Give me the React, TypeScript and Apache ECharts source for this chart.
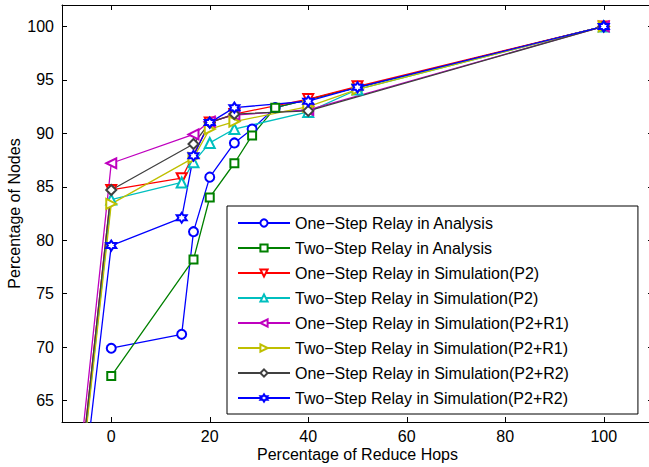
import React, { useEffect, useRef } from "react";
import * as echarts from "echarts";

// ---- data ----
const X_TICKS = [0, 20, 40, 60, 80, 100];
const Y_TICKS = [65, 70, 75, 80, 85, 90, 95, 100];

const NAMES = [
  "One\u2212Step Relay in Analysis",
  "Two\u2212Step Relay in Analysis",
  "One\u2212Step Relay in Simulation(P2)",
  "Two\u2212Step Relay in Simulation(P2)",
  "One\u2212Step Relay in Simulation(P2+R1)",
  "Two\u2212Step Relay in Simulation(P2+R1)",
  "One\u2212Step Relay in Simulation(P2+R2)",
  "Two\u2212Step Relay in Simulation(P2+R2)",
];

const oneAnaX = [0, 14.3, 16.7, 20, 25, 28.6, 33.3, 50, 100];
const oneAnaY = [69.9, 71.2, 80.8, 85.9, 89.1, 90.4, 92.4, 94.3, 100];

const twoAnaX = [0, 16.7, 20, 25, 28.6, 33.3, 50, 100];
const twoAnaY = [67.3, 78.2, 84.0, 87.2, 89.8, 92.4, 94.3, 100];

const oneP2X = [-20, 0, 14.3, 20, 25, 40, 50, 100];
const oneP2Y = [0, 84.7, 85.8, 91.0, 91.8, 93.2, 94.4, 100];

const twoP2X = [-20, 0, 14.3, 16.7, 20, 25, 40, 50, 100];
const twoP2Y = [0, 83.8, 85.4, 87.3, 89.1, 90.4, 92.0, 94.1, 100];

const oneR1X = [-20, 0, 16.7, 20, 25, 40, 100];
const oneR1Y = [0, 87.2, 89.9, 91.1, 91.7, 92.2, 100];

const twoR1X = [-20, 0, 16.7, 20, 25, 40, 50, 100];
const twoR1Y = [0, 83.4, 87.7, 90.4, 91.1, 92.5, 94.1, 100];

const oneR2X = [-20, 0, 16.7, 20, 25, 40, 100];
const oneR2Y = [0, 84.7, 89.0, 91.0, 91.8, 92.1, 100];

const twoR2X = [-20, 0, 14.3, 16.7, 20, 25, 40, 50, 100];
const twoR2Y = [0, 79.5, 82.1, 87.9, 91.0, 92.4, 93.0, 94.3, 100];

const SERIES_X = [oneAnaX, twoAnaX, oneP2X, twoP2X, oneR1X, twoR1X, oneR2X, twoR2X];
const SERIES_Y = [oneAnaY, twoAnaY, oneP2Y, twoP2Y, oneR1Y, twoR1Y, oneR2Y, twoR2Y];

// ---- styles ----
const COLORS = ["#0000ff", "#008000", "#ff0000", "#00bfbf", "#bf00bf", "#bfbf00", "#404040", "#0000ff"];
const HEX =
  "emptyPath://M10 0L12.887 5L18.66 5L15.774 10L18.66 15L12.887 15L10 20L7.113 15L1.34 15L4.226 10L1.34 5L7.113 5Z";
const SYMBOLS = ["emptyCircle", "emptyRect", "emptyTriangle", "emptyTriangle", "emptyTriangle", "emptyTriangle", "emptyDiamond", HEX];
const ROTATE = [0, 0, 180, 0, 90, -90, 0, 0];
const SIZES = [9, 8, 10, 10, 10, 10, 10, 10];

const FONT = "'Liberation Sans', Arial, Helvetica, sans-serif";

export default function App() {
  const ref = useRef<HTMLDivElement>(null);
  useEffect(() => {
    if (!ref.current) return;
    const chart = echarts.init(ref.current, null, { renderer: "svg" });
    const axisCommon = {
      axisLine: { show: true, onZero: false, lineStyle: { color: "#000", width: 1 } },
      splitLine: { show: false },
    };
    const series = NAMES.map((name, i) => ({
      name,
      type: "line",
      data: SERIES_X[i].map((x, j) => [x, SERIES_Y[i][j]]),
      symbol: SYMBOLS[i],
      symbolSize: SIZES[i],
      symbolRotate: ROTATE[i],
      showAllSymbol: true,
      clip: true,
      color: COLORS[i],
      lineStyle: { color: COLORS[i], width: 1.3 },
      itemStyle: { color: COLORS[i], borderWidth: 1.2 },
      emphasis: { disabled: true },
    }));
    chart.setOption({
      animation: false,
      backgroundColor: "#fff",
      textStyle: { fontFamily: FONT },
      grid: { left: 62, top: 5, width: 591, height: 417, containLabel: false, outerBoundsMode: "none" },
      xAxis: [
        {
          type: "value",
          min: -10,
          max: 110,
          position: "bottom",
          name: "Percentage of Reduce Hops",
          nameLocation: "middle",
          nameGap: 24,
          nameMoveOverlap: false,
          nameTextStyle: { fontSize: 16, color: "#000", fontFamily: FONT, verticalAlign: "top" },
          ...axisCommon,
          axisTick: { show: true, inside: true, length: 5, customValues: X_TICKS, lineStyle: { color: "#000" } },
          axisLabel: { show: true, customValues: X_TICKS, fontSize: 16, color: "#000", margin: 6, fontFamily: FONT },
        },
        {
          type: "value",
          min: -10,
          max: 110,
          position: "top",
          ...axisCommon,
          axisTick: { show: true, inside: true, length: 5, customValues: X_TICKS, lineStyle: { color: "#000" } },
          axisLabel: { show: false },
        },
      ],
      yAxis: [
        {
          type: "value",
          min: 63,
          max: 102,
          position: "left",
          name: "Percentage of Nodes",
          nameLocation: "middle",
          nameGap: 40,
          nameMoveOverlap: false,
          nameTextStyle: { fontSize: 16, color: "#000", fontFamily: FONT },
          ...axisCommon,
          axisTick: { show: true, inside: true, length: 5, customValues: Y_TICKS, lineStyle: { color: "#000" } },
          axisLabel: { show: true, customValues: Y_TICKS, fontSize: 16, color: "#000", margin: 8, fontFamily: FONT },
        },
        {
          type: "value",
          min: 63,
          max: 102,
          position: "right",
          ...axisCommon,
          axisTick: { show: true, inside: true, length: 5, customValues: Y_TICKS, lineStyle: { color: "#000" } },
          axisLabel: { show: false },
        },
      ],
      legend: {
        orient: "vertical",
        left: 227,
        top: 206,
        padding: [9, 69, 8, 10],
        itemWidth: 52,
        itemHeight: 9,
        itemGap: 9,
        backgroundColor: "#fff",
        borderColor: "#000",
        borderWidth: 1,
        borderRadius: 0,
        selectedMode: false,
        textStyle: { fontSize: 16, color: "#000", fontFamily: FONT, lineHeight: 16 },
        data: NAMES,
      },
      series,
    });
    return () => chart.dispose();
  }, []);
  return (
    <div
      ref={ref}
      style={{ position: "fixed", left: 0, top: 0, width: 649, height: 467, background: "#fff" }}
    />
  );
}
